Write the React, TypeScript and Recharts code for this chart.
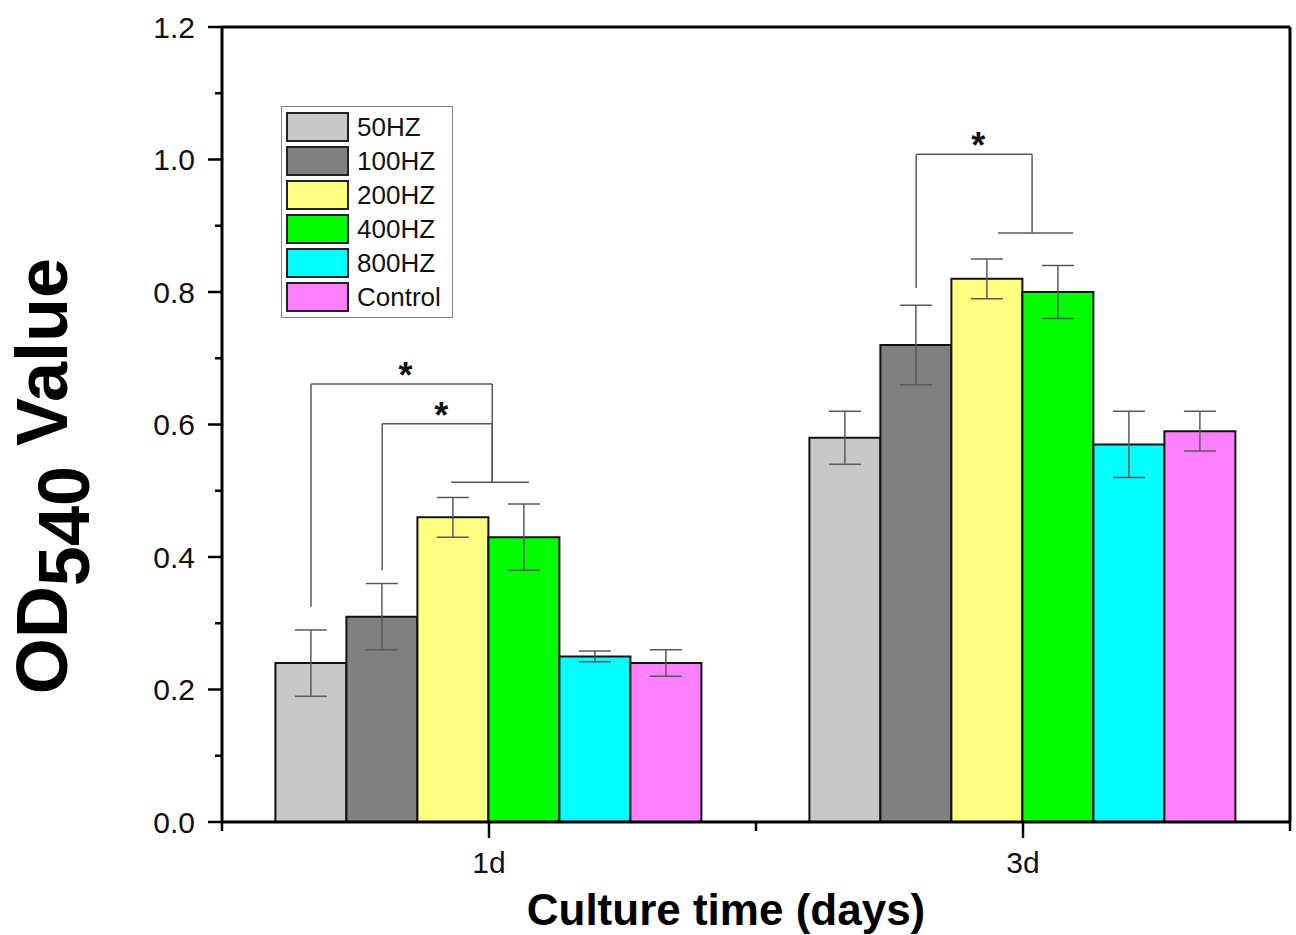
import {
  Bar,
  BarChart,
  ErrorBar,
  Label,
  Legend,
  ReferenceLine,
  XAxis,
  YAxis,
} from "recharts";

const FONT = "'Liberation Sans', Arial, sans-serif";

const days = ["1d", "3d"];
const hz50 = [0.24, 0.58];
const hz50Err = [0.05, 0.04];
const hz100 = [0.31, 0.72];
const hz100Err = [0.05, 0.06];
const hz200 = [0.46, 0.82];
const hz200Err = [0.03, 0.03];
const hz400 = [0.43, 0.8];
const hz400Err = [0.05, 0.04];
const hz800 = [0.25, 0.57];
const hz800Err = [0.008, 0.05];
const control = [0.24, 0.59];
const controlErr = [0.02, 0.03];

const yTicks = [0, 0.1, 0.2, 0.3, 0.4, 0.5, 0.6, 0.7, 0.8, 0.9, 1.0, 1.1, 1.2];

const SERIES = [
  { name: "50HZ", values: hz50, errors: hz50Err, color: "#c8c8c8" },
  { name: "100HZ", values: hz100, errors: hz100Err, color: "#808080" },
  { name: "200HZ", values: hz200, errors: hz200Err, color: "#ffff80" },
  { name: "400HZ", values: hz400, errors: hz400Err, color: "#00ff00" },
  { name: "800HZ", values: hz800, errors: hz800Err, color: "#00ffff" },
  { name: "Control", values: control, errors: controlErr, color: "#ff80ff" },
];

const data = days.map((day, i) => {
  const row: Record<string, string | number> = { day };
  SERIES.forEach((s, k) => {
    row["v" + k] = s.values[i];
    row["e" + k] = s.errors[i];
  });
  return row;
});

// hidden 0..1 numeric axis spanning the plot; each day takes half of it
const toAxis = (pos: number) => pos / days.length;
// centre of bar k in group g (10% category gap each side)
const barX = (g: number, k: number) => toAxis(g + 0.1 + (0.8 * (k + 0.5)) / SERIES.length);

// significance brackets: left leg on a bar, right leg dropping to a cap line
const brackets = [
  { left: barX(0, 0), right: toAxis(0.506), low: 0.325, top: 0.661, drop: 0.513 },
  { left: barX(0, 1), right: toAxis(0.506), low: 0.38, top: 0.601, drop: 0.513 },
  { left: barX(1, 1), right: toAxis(1.517), low: 0.806, top: 1.008, drop: 0.889 },
];
const caps = [
  { x1: toAxis(0.429), x2: toAxis(0.575), y: 0.513 },
  { x1: toAxis(1.453), x2: toAxis(1.594), y: 0.889 },
];

const SIG = "#5a5a5a";

function YTick(props: any) {
  const { x, y, payload, index } = props;
  const major = index % 2 === 0;
  return (
    <g>
      <line x1={x - (major ? 14 : 7)} x2={x} y1={y} y2={y} stroke="#000" strokeWidth={2.5} />
      {major && (
        <text
          x={x - 27}
          y={y}
          textAnchor="end"
          dominantBaseline="central"
          fontSize={30}
          fontFamily={FONT}
          fill="#111"
        >
          {Number(payload.value).toFixed(1)}
        </text>
      )}
    </g>
  );
}

function XTick(props: any) {
  const { x, y, payload, index } = props;
  const half = payload.offset ?? 267;
  return (
    <g>
      {index === 0 && <line x1={x - half} x2={x - half} y1={y} y2={y + 9} stroke="#000" strokeWidth={2.5} />}
      <line x1={x + half} x2={x + half} y1={y} y2={y + 9} stroke="#000" strokeWidth={2.5} />
      <line x1={x} x2={x} y1={y} y2={y + 16} stroke="#000" strokeWidth={2.5} />
      <text x={x} y={y + 51} textAnchor="middle" fontSize={30} fontFamily={FONT} fill="#111">
        {payload.value}
      </text>
    </g>
  );
}

function LegendBox(props: any) {
  const raw = props.payload ?? [];
  const items = SERIES.map((s) => raw.find((p: any) => p.value === s.name) ?? { value: s.name, color: s.color });
  return (
    <div
      style={{
        width: 172,
        boxSizing: "border-box",
        border: "1.5px solid #888",
        background: "#fff",
        padding: "3px 0 3px 4px",
        fontFamily: FONT,
        fontSize: 26,
        color: "#111",
      }}
    >
      {items.map((p: any) => (
        <div key={p.value} style={{ display: "flex", alignItems: "center", height: 34 }}>
          <span
            style={{
              width: 63,
              height: 30,
              boxSizing: "border-box",
              background: p.color,
              border: "2px solid #222",
              marginRight: 8,
            }}
          />
          <span>{p.value}</span>
        </div>
      ))}
    </div>
  );
}

function Star(props: any) {
  const vb = props.viewBox;
  return (
    <text
      x={vb.x + vb.width / 2 + 4}
      y={vb.y + 4}
      textAnchor="middle"
      fontSize={36}
      fontWeight="bold"
      fontFamily={FONT}
      fill="#111"
    >
      *
    </text>
  );
}

function YTitle() {
  return (
    <text
      transform="translate(67, 476) rotate(-90)"
      textAnchor="middle"
      fontSize={72}
      fontWeight="bold"
      fontFamily={FONT}
      fill="#000"
    >
      OD
      <tspan dy={22}>540</tspan>
      <tspan dy={-22}> Value</tspan>
    </text>
  );
}

function XTitle() {
  return (
    <text x={726} y={925} textAnchor="middle" fontSize={44} fontWeight="bold" fontFamily={FONT} fill="#000">
      Culture time (days)
    </text>
  );
}

export default function App() {
  return (
    <div style={{ position: "absolute", left: 0, top: 0, background: "#fff" }}>
      <BarChart
        width={1296}
        height={935}
        data={data}
        margin={{ top: 27, right: 6, left: 0, bottom: 0 }}
        barCategoryGap="10%"
        barGap={0}
      >
        <XAxis
          dataKey="day"
          height={113}
          axisLine={{ stroke: "#000", strokeWidth: 3 }}
          tickLine={false}
          tickSize={0}
          tickMargin={0}
          tick={<XTick />}
          interval={0}
        >
          <Label content={<XTitle />} />
        </XAxis>
        <XAxis xAxisId="num" type="number" domain={[0, 1]} allowDataOverflow hide />
        <YAxis
          width={222}
          domain={[0, 1.2]}
          ticks={yTicks}
          interval={0}
          allowDataOverflow
          axisLine={{ stroke: "#000", strokeWidth: 3 }}
          tickLine={false}
          tickSize={0}
          tickMargin={0}
          tick={<YTick />}
        >
          <Label content={<YTitle />} />
        </YAxis>
        <Legend
          layout="vertical"
          align="center"
          verticalAlign="middle"
          content={<LegendBox />}
          wrapperStyle={{ position: "absolute", left: 281, top: 106, width: 172 }}
        />
        {SERIES.map((s, k) => (
          <Bar
            key={s.name}
            dataKey={"v" + k}
            name={s.name}
            fill={s.color}
            stroke="#111"
            strokeWidth={2}
            isAnimationActive={false}
          >
            <ErrorBar dataKey={"e" + k} width={16} stroke={SIG} strokeWidth={1.5} />
          </Bar>
        ))}
        <ReferenceLine y={1.2} stroke="#000" strokeWidth={3} />
        <ReferenceLine xAxisId="num" x={1} stroke="#000" strokeWidth={3} />
        {brackets.map((b, i) => (
          <ReferenceLine
            key={"l" + i}
            xAxisId="num"
            segment={[{ x: b.left, y: b.low }, { x: b.left, y: b.top }]}
            stroke={SIG}
            strokeWidth={1.5}
          />
        ))}
        {brackets.map((b, i) => (
          <ReferenceLine
            key={"t" + i}
            xAxisId="num"
            segment={[{ x: b.left, y: b.top }, { x: b.right, y: b.top }]}
            stroke={SIG}
            strokeWidth={1.5}
            label={<Star />}
          />
        ))}
        {brackets.map((b, i) => (
          <ReferenceLine
            key={"r" + i}
            xAxisId="num"
            segment={[{ x: b.right, y: b.top }, { x: b.right, y: b.drop }]}
            stroke={SIG}
            strokeWidth={1.5}
          />
        ))}
        {caps.map((c, i) => (
          <ReferenceLine
            key={"c" + i}
            xAxisId="num"
            segment={[{ x: c.x1, y: c.y }, { x: c.x2, y: c.y }]}
            stroke={SIG}
            strokeWidth={1.5}
          />
        ))}
      </BarChart>
    </div>
  );
}
